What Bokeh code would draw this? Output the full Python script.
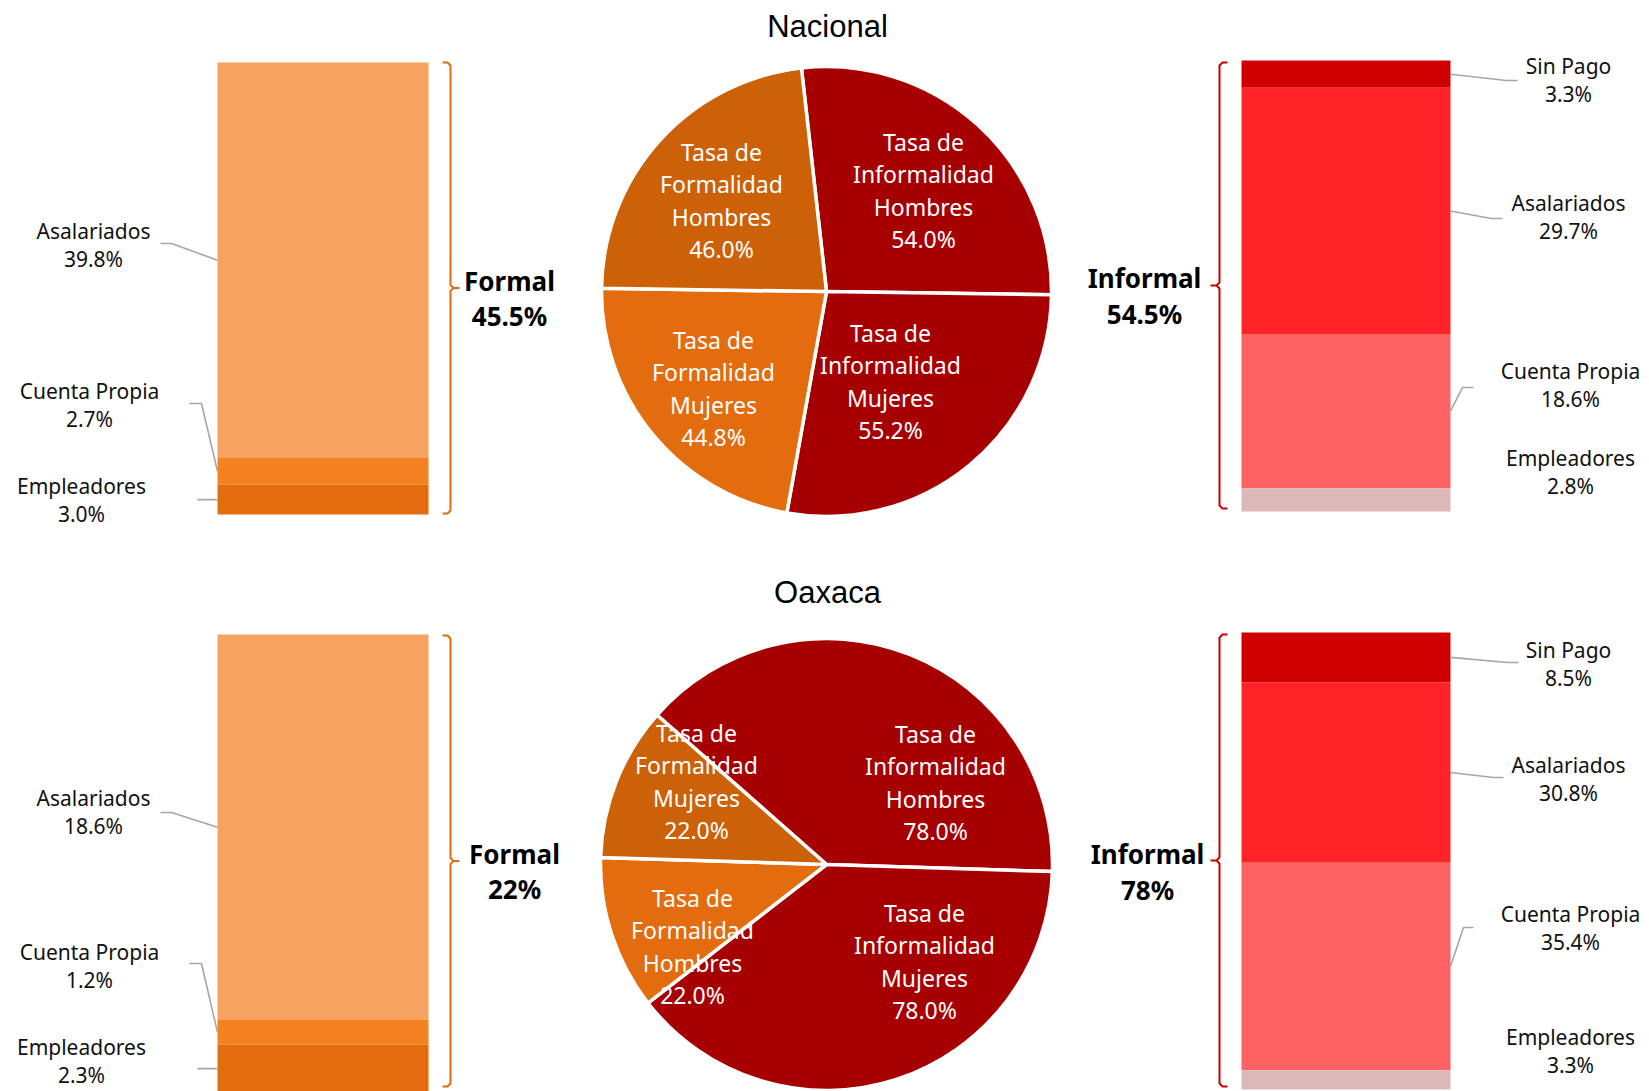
import math
from bokeh.plotting import figure
from bokeh.models import Range1d, ColumnDataSource
from bokeh.embed import file_html
from bokeh.resources import INLINE
from bokeh.core.properties import value

# ---------------- data ----------------
regions = ["Nacional", "Oaxaca"]

pie_cats_nacional = ["Informalidad Hombres", "Informalidad Mujeres", "Formalidad Mujeres", "Formalidad Hombres"]
pie_vals_nacional = [54.0, 55.2, 44.8, 46.0]
pie_cats_oaxaca = ["Informalidad Hombres", "Informalidad Mujeres", "Formalidad Hombres", "Formalidad Mujeres"]
pie_vals_oaxaca = [78.0, 78.0, 22.0, 22.0]

formal_cats = ["Asalariados", "Cuenta Propia", "Empleadores"]
formal_nacional = [39.8, 2.7, 3.0]
formal_oaxaca = [18.6, 1.2, 2.3]

informal_cats = ["Sin Pago", "Asalariados", "Cuenta Propia", "Empleadores"]
informal_nacional = [3.3, 29.7, 18.6, 2.8]
informal_oaxaca = [8.5, 30.8, 35.4, 3.3]

formal_totals = [45.5, 22]
informal_totals = [54.5, 78]

# ---------------- styles / layout ----------------
W, H = 1649, 1091
X0, Y0 = 0, 0

pie_colors = ["#A60000", "#A60000", "#E36C0E", "#CC6108"]
formal_colors = ["#F7A25E", "#F58220", "#E36C0C"]
informal_colors = ["#D00000", "#FF2226", "#FF6262", "#DCB8B8"]
formal_bracket_color = "#E36C0A"
informal_bracket_color = "#CC0000"
leader_color = "#A6A6A6"
LABEL_FONT = "Noto Sans"
TITLE_FONT = "Liberation Sans"

layout = {
    "Nacional": dict(
        title=(827, 26), pie_c=(826, 291), pie_r=225, pie_start=-6.4,
        pie_off=[(97, -101), (64, 90), (-113, 97), (-105, -91)],
        fbar=(217, 428, 62, 514), ibar=(1241, 1450, 60, 511),
        fbr=(62, 513), ibr=(62, 508),
        ftot=(509, 280), itot=(1144, 277),
        flab=[(93, 230), (89, 390), (81, 485)],
        ilab=[(1568, 65), (1568, 202), (1570, 370), (1570, 457)],
        flead=[(160, 171, 243), (189, 201, 403), (197, None, None)],
        ilead=[(1506, 1517, 80), (1491, 1502, 218), (1462, 1473, 387), None],
    ),
    "Oaxaca": dict(
        title=(827, 592), pie_c=(826, 864), pie_r=226, pie_start=-48.6,
        pie_off=[(109, -82), (98, 97), (-134, 82), (-130, -83)],
        fbar=(217, 428, 634, 1092), ibar=(1241, 1450, 632, 1089),
        fbr=(635, 1086), ibr=(634, 1086),
        ftot=(514, 853), itot=(1147, 853),
        flab=[(93, 797), (89, 951), (81, 1046)],
        ilab=[(1568, 649), (1568, 764), (1570, 913), (1570, 1036)],
        flead=[(160, 171, 812), (189, 201, 963), (197, None, None)],
        ilead=[(1507, 1518, 662), (1493, 1503, 777), (1463, 1473, 927), None],
    ),
}

data = {
    "Nacional": dict(pc=pie_cats_nacional, pv=pie_vals_nacional, f=formal_nacional, i=informal_nacional,
                     ft=formal_totals[0], it=informal_totals[0]),
    "Oaxaca": dict(pc=pie_cats_oaxaca, pv=pie_vals_oaxaca, f=formal_oaxaca, i=informal_oaxaca,
                   ft=formal_totals[1], it=informal_totals[1]),
}

p = figure(width=W, height=H, x_range=Range1d(X0, X0 + W), y_range=Range1d(-(Y0 + H), -Y0),
           output_backend="svg", toolbar_location=None, x_axis_type=None, y_axis_type=None,
           min_border=0)
p.outline_line_color = None
p.background_fill_color = "white"
p.border_fill_color = "white"


def Y(py):
    return -py


def add_text(xs, ys, texts, size, color="#111111", bold=False, font=LABEL_FONT):
    src = ColumnDataSource(dict(x=xs, y=[Y(v) for v in ys], t=texts))
    p.text(x="x", y="y", text="t", source=src, text_align="center", text_baseline="middle",
           text_font=value(font), text_font_size=value(f"{size}px"), text_color=color,
           text_font_style="bold" if bold else "normal")


def stacked_bar(name, cats, vals, colors, box, labels, leads, side):
    left, right, top, bottom = box
    total = sum(vals)
    k = total / (bottom - top)
    p.extra_y_ranges[name] = Range1d(start=(bottom - (Y0 + H)) * k, end=(bottom - Y0) * k)
    # stack from bottom: last category at the bottom
    lows, highs = [0.0] * len(vals), [0.0] * len(vals)
    acc = 0.0
    for j in reversed(range(len(vals))):
        lows[j] = acc
        acc += vals[j]
        highs[j] = acc
    src = ColumnDataSource(dict(l=[left] * len(vals), r=[right] * len(vals), b=lows, t=highs, c=colors))
    p.quad(left="l", right="r", bottom="b", top="t", fill_color="c", line_color=None,
           source=src, y_range_name=name)
    # labels and leaders
    lx, ly, lt = [], [], []
    for j, cat in enumerate(cats):
        cx, cy = labels[j]
        lx += [cx, cx]
        ly += [cy, cy + 28.5]
        lt += [cat, f"{vals[j]:.1f}%"]
        mid_page = bottom - (lows[j] + highs[j]) / 2 / k
        ld = leads[j]
        if ld is None:
            continue
        a, b, yy = ld
        edge = left if side == "left" else right
        if b is None:
            pts = [(a, mid_page), (edge, mid_page)]
        elif side == "left":
            pts = [(a, yy), (b, yy), (edge, mid_page)]
        else:
            pts = [(edge, mid_page), (a, yy), (b, yy)]
        p.line([q[0] for q in pts], [Y(q[1]) for q in pts], line_color=leader_color, line_width=1.6)
    add_text(lx, ly, lt, 21)


def bracket(x, top, bottom, direction, color):
    # direction=+1: "}" (hooks to left, tip to right); -1: "{"
    mid = (top + bottom) / 2
    d = direction
    pts = [(x - 8 * d, top), (x - 3 * d, top), (x, top + 3), (x, mid - 3), (x + 3 * d, mid),
           (x + 9 * d, mid), (x + 3 * d, mid), (x, mid + 3), (x, bottom - 3), (x - 3 * d, bottom),
           (x - 8 * d, bottom)]
    p.line([q[0] for q in pts], [Y(q[1]) for q in pts], line_color=color, line_width=2)


for reg in regions:
    L = layout[reg]
    D = data[reg]
    # title
    add_text([L["title"][0]], [L["title"][1]], [reg], 31, color="#000000", font=TITLE_FONT)

    # pie
    cx, cy = L["pie_c"]
    tot = sum(D["pv"])
    acc = L["pie_start"]
    starts, ends = [], []
    for v in D["pv"]:
        a0 = acc
        a1 = acc + v / tot * 360.0
        starts.append(math.pi / 2 - math.radians(a1))
        ends.append(math.pi / 2 - math.radians(a0))
        acc = a1
    wsrc = ColumnDataSource(dict(x=[cx] * 4, y=[Y(cy)] * 4, s=starts, e=ends, c=pie_colors))
    p.wedge(x="x", y="y", radius=L["pie_r"], start_angle="s", end_angle="e", source=wsrc,
            fill_color="c", line_color="white", line_width=3.5, direction="anticlock")
    tx, ty, tt = [], [], []
    for j, cat in enumerate(D["pc"]):
        w1, w2 = cat.split(" ")
        lines = ["Tasa de", w1, w2, f"{D['pv'][j]:.1f}%"]
        ox, oy = L["pie_off"][j]
        for m, s in enumerate(lines):
            tx.append(cx + ox)
            ty.append(cy + oy + (m - 1.5) * 32.5)
            tt.append(s)
    add_text(tx, ty, tt, 23, color="white")

    # bars
    stacked_bar(f"f_{reg}", formal_cats, D["f"], formal_colors, L["fbar"], L["flab"], L["flead"], "left")
    stacked_bar(f"i_{reg}", informal_cats, D["i"], informal_colors, L["ibar"], L["ilab"], L["ilead"], "right")

    # brackets
    bracket(450, L["fbr"][0], L["fbr"][1], 1, formal_bracket_color)
    bracket(1219, L["ibr"][0], L["ibr"][1], -1, informal_bracket_color)

    fx, fy = L["ftot"]
    add_text([fx, fx], [fy, fy + 35.5], ["Formal", f"{D['ft']:g}%"], 26, color="#000000", bold=True)
    ix, iy = L["itot"]
    add_text([ix, ix], [iy, iy + 36], ["Informal", f"{D['it']:g}%"], 26, color="#000000", bold=True)

open("out.html", "w").write(file_html(p, INLINE))
